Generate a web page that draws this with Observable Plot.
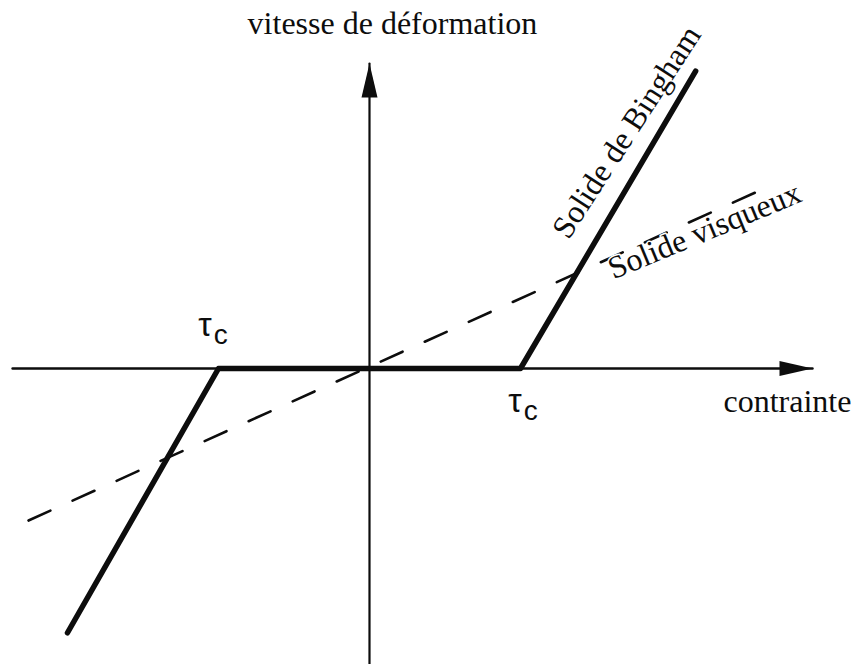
<!DOCTYPE html>
<html>
<head>
<meta charset="utf-8">
<script src="https://cdn.jsdelivr.net/npm/d3@7"></script>
<script src="https://cdn.jsdelivr.net/npm/@observablehq/plot@0.6"></script>
<style>
  body { margin: 0; background: #fff; }
  svg { display: block; }
</style>
</head>
<body>
<div id="chart"></div>
<script>
// ---- data (stress in units of tau_c, strain rate in the same scale) ----
const tauC = 1;
const binghamStress = [-2.0, -tauC, tauC, 2.16];
const binghamRate   = [-1.75, 0, 0, 1.97];
const viscousStress = [-2.258, 2.556];
const viscousRate   = [-1.007, 1.166];
const xAxisExtent = [-2.364, 2.934];   // contrainte axis (start, arrow tip)
const yAxisExtent = [-1.96, 2.02];     // vitesse axis (bottom, arrow tip)
const xDomain = [-2.4437, 3.2252];
const yDomain = [-1.9603, 2.4371];
const xAxisLabel = "contrainte";
const yAxisLabel = "vitesse de déformation";
const seriesLabels = ["Solide de Bingham", "Solide visqueux"];
const seriesLabelX = [1.318, 1.616];
const seriesLabelY = [0.848, 0.589];
const seriesLabelAngle = [-57, -22.5];
const tauSymbol = "τ";
const tauSub = "c";
const tauLabelX = [-1.134, 0.9185];
const tauLabelY = [0.2185, -0.291];

// ---- tables built from the arrays ----
const bingham = binghamStress.map((s, i) => ({stress: s, rate: binghamRate[i]}));
const viscous = viscousStress.map((s, i) => ({stress: s, rate: viscousRate[i]}));
const hAxis = xAxisExtent.map(s => ({stress: s, rate: 0}));
const vAxis = yAxisExtent.map(r => ({stress: 0, rate: r}));
const seriesText = seriesLabels.map((t, i) => ({text: t, x: seriesLabelX[i], y: seriesLabelY[i], a: seriesLabelAngle[i]}));
const tauText = tauLabelX.map((x, i) => ({x, y: tauLabelY[i]}));

const arrowRight = {draw(ctx) { ctx.moveTo(0, 0); ctx.lineTo(-33, -7.5); ctx.lineTo(-33, 7.5); ctx.closePath(); }};
const arrowUp = {draw(ctx) { ctx.moveTo(0, 0); ctx.lineTo(-8, 34); ctx.lineTo(8, 34); ctx.closePath(); }};

const serif = "'Liberation Serif', 'Times New Roman', serif";
const sans = "'Liberation Sans', Arial, sans-serif";
const ink = "#0d0d0d";

const chart = Plot.plot({
  width: 856,
  height: 664,
  margin: 0,
  style: {background: "#fff", color: ink},
  x: {domain: xDomain, axis: null},
  y: {domain: yDomain, axis: null},
  marks: [
    Plot.line(hAxis, {x: "stress", y: "rate", strokeWidth: 2.4}),
    Plot.line(vAxis, {x: "stress", y: "rate", strokeWidth: 2.2}),
    Plot.line(viscous, {x: "stress", y: "rate", strokeWidth: 2.6, strokeDasharray: "24,24.3"}),
    Plot.line(bingham, {x: "stress", y: "rate", strokeWidth: 5.5, strokeLinejoin: "round", strokeLinecap: "round"}),
    Plot.dot([{stress: xAxisExtent[1], rate: 0}], {x: "stress", y: "rate", r: 5, symbol: arrowRight, fill: ink, stroke: "none"}),
    Plot.dot([{stress: 0, rate: yAxisExtent[1]}], {x: "stress", y: "rate", r: 5, symbol: arrowUp, fill: ink, stroke: "none"}),
    Plot.text([seriesText[0]], {x: "x", y: "y", text: "text", rotate: -57, textAnchor: "start", lineAnchor: "bottom", fontFamily: serif, fontSize: 32, fill: ink}),
    Plot.text([seriesText[1]], {x: "x", y: "y", text: "text", rotate: -22.5, textAnchor: "start", lineAnchor: "bottom", fontFamily: serif, fontSize: 32, fill: ink, stroke: "white", strokeWidth: 3}),
    Plot.text([{x: 0.152, y: 2.212}], {x: "x", y: "y", text: () => yAxisLabel, textAnchor: "middle", lineAnchor: "bottom", fontFamily: serif, fontSize: 32, fill: ink}),
    Plot.text([{x: 2.344, y: -0.291}], {x: "x", y: "y", text: () => xAxisLabel, textAnchor: "start", lineAnchor: "bottom", fontFamily: serif, fontSize: 32, fill: ink}),
    Plot.text(tauText, {x: "x", y: "y", text: () => tauSymbol, textAnchor: "start", lineAnchor: "bottom", fontFamily: sans, fontSize: 34, fill: ink}),
    Plot.text(tauText, {x: "x", y: "y", text: () => tauSub, dx: 15.5, dy: 8, textAnchor: "start", lineAnchor: "bottom", fontFamily: sans, fontSize: 28, fill: ink})
  ]
});
document.getElementById("chart").appendChild(chart);
</script>
</body>
</html>
